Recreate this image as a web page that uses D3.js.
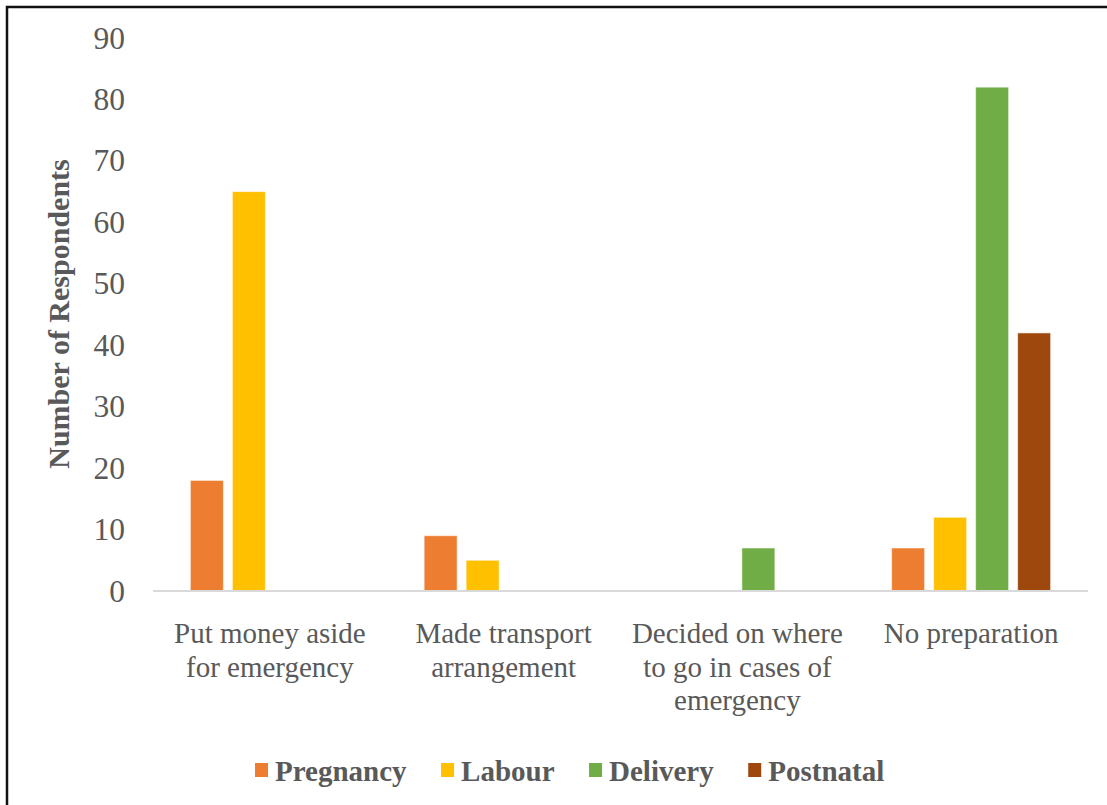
<!DOCTYPE html>
<html>
<head>
<meta charset="utf-8">
<script src="https://cdn.jsdelivr.net/npm/d3@7"></script>
<style>
  html, body { margin: 0; padding: 0; background: #fff; }
  svg { display: block; }
  text { font-family: "Liberation Serif", "Times New Roman", serif; fill: #595959; }
</style>
</head>
<body>
<svg id="chart" width="1107" height="805"></svg>
<script>
// Emergency preparedness by stage of care
const categories = [
  ["Put money aside", "for emergency"],
  ["Made transport", "arrangement"],
  ["Decided on where", "to go in cases of", "emergency"],
  ["No preparation"]
];
const seriesNames = ["Pregnancy", "Labour", "Delivery", "Postnatal"];
const seriesColors = ["#ED7D31", "#FFC000", "#70AD47", "#9E480E"];
const pregnancy = [18, 9, 0, 7];
const labour = [65, 5, 0, 12];
const delivery = [0, 0, 7, 82];
const postnatal = [0, 0, 0, 42];
const yTicks = [0, 10, 20, 30, 40, 50, 60, 70, 80, 90];

const seriesValues = [pregnancy, labour, delivery, postnatal];
const catKeys = categories.map(c => c.join(" "));

const svg = d3.select("#chart");

// outer frame
svg.append("rect")
  .attr("x", 7).attr("y", 7)
  .attr("width", 1120).attr("height", 820)
  .attr("fill", "none")
  .attr("stroke", "#111")
  .attr("stroke-width", 2.5);

const plot = { left: 153, right: 1088, top: 38, bottom: 591 };

const x0 = d3.scaleBand()
  .domain(catKeys)
  .range([plot.left, plot.right])
  .padding(0);

const x1 = d3.scaleBand()
  .domain(seriesNames)
  .range([0, x0.bandwidth()])
  .paddingInner(0.214)
  .paddingOuter(0.89);

const y = d3.scaleLinear()
  .domain([0, 90])
  .range([plot.bottom, plot.top]);

// y tick labels
const yAxis = d3.axisLeft(y).tickValues(yTicks).tickSize(0).tickPadding(0);
const yg = svg.append("g")
  .attr("transform", `translate(${plot.left - 28},0)`)
  .call(yAxis);
yg.select(".domain").remove();
yg.selectAll("text")
  .attr("font-size", 31.5)
  .attr("font-family", "Liberation Serif, Times New Roman, serif")
  .attr("fill", "#595959");

// bars
const groups = svg.append("g").selectAll("g")
  .data(catKeys)
  .join("g")
  .attr("transform", d => `translate(${x0(d)},0)`);

groups.selectAll("rect")
  .data((d, i) => seriesNames.map((s, j) => ({ s, j, v: seriesValues[j][i] })).filter(e => e.v > 0))
  .join("rect")
  .attr("x", d => x1(d.s))
  .attr("width", x1.bandwidth())
  .attr("y", d => y(d.v))
  .attr("height", d => y(0) - y(d.v))
  .attr("fill", d => seriesColors[d.j])
  .attr("stroke", "#fff")
  .attr("stroke-opacity", 0.55)
  .attr("stroke-width", 1);

// baseline
svg.append("line")
  .attr("x1", plot.left).attr("x2", plot.right)
  .attr("y1", y(0)).attr("y2", y(0))
  .attr("stroke", "#D9D9D9")
  .attr("stroke-width", 2);

// category labels
const catLabels = svg.append("g").selectAll("text")
  .data(categories)
  .join("text")
  .attr("text-anchor", "middle")
  .attr("font-size", 29)
  .attr("x", (d, i) => x0(catKeys[i]) + x0.bandwidth() / 2)
  .attr("y", 643);
catLabels.selectAll("tspan")
  .data(d => d)
  .join("tspan")
  .attr("x", function () { return this.parentNode.getAttribute("x"); })
  .attr("dy", (d, i) => i === 0 ? 0 : 33.5)
  .text(d => d);

// y axis title
svg.append("text")
  .attr("transform", "translate(69,314) rotate(-90)")
  .attr("text-anchor", "middle")
  .attr("font-size", 30)
  .attr("font-weight", "bold")
  .text("Number of Respondents");

// legend
const legend = svg.append("g").attr("transform", "translate(255,0)");
let lx = 0;
seriesNames.forEach((name, i) => {
  const item = legend.append("g").attr("transform", `translate(${lx},0)`);
  item.append("rect")
    .attr("x", 0).attr("y", 763)
    .attr("width", 13).attr("height", 14)
    .attr("fill", seriesColors[i]);
  const t = item.append("text")
    .attr("x", 20).attr("y", 781)
    .attr("font-size", 29)
    .attr("font-weight", "bold")
    .text(name);
  lx += 20 + t.node().getComputedTextLength() + 34.5;
});
</script>
</body>
</html>
